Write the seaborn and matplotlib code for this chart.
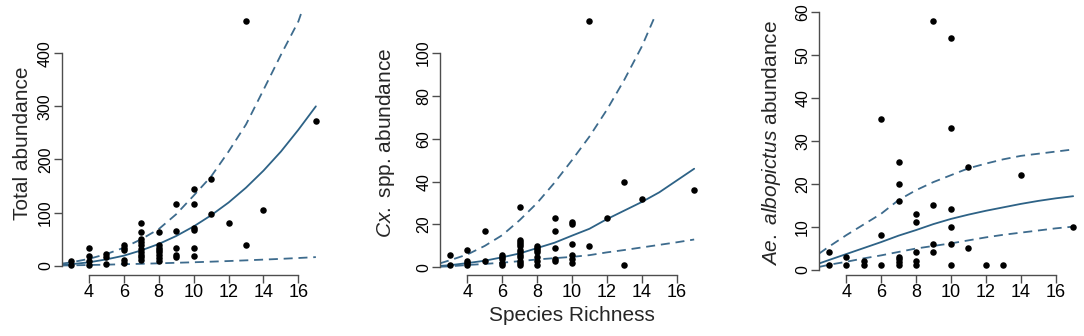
import matplotlib
matplotlib.use("Agg")
import matplotlib.pyplot as plt
import seaborn as sns

# ---------------- data ----------------
# Panel 1: Total abundance
rich1 = [3, 3, 4, 4, 4, 4, 5, 5, 5, 6, 6, 6, 6, 6,
         7, 7, 7, 7, 7, 7, 7, 7, 7, 7,
         8, 8, 8, 8, 8, 8, 8, 8,
         9, 9, 9, 9, 9, 10, 10, 10, 10, 10, 10,
         11, 11, 12, 13, 13, 14, 17]
total1 = [9, 2, 34, 19, 9, 2, 22, 17, 3, 40, 34, 29, 10, 6,
          81, 63, 50, 44, 39, 31, 25, 20, 16, 11,
          63, 39, 34, 30, 25, 20, 14, 9,
          116, 66, 33, 20, 16, 144, 116, 72, 67, 33, 19,
          164, 97, 80, 461, 40, 105, 272]

# Panel 2: Cx. spp. abundance
rich2 = [3, 3, 4, 4, 4, 4, 5, 5, 6, 6, 6, 6, 6,
         7, 7, 7, 7, 7, 7, 7, 7, 7, 7, 7, 7,
         8, 8, 8, 8, 8, 8, 8,
         9, 9, 9, 9, 9, 10, 10, 10, 10, 10, 10,
         11, 11, 12, 13, 13, 14, 17]
culex2 = [6, 1, 8, 3, 2, 1, 17, 3, 6, 5, 4, 2, 1,
          28, 13, 12, 11, 10, 8, 7, 6, 5, 3, 2, 1,
          10, 9, 8, 7, 5, 3, 1,
          23, 17, 9, 4, 3, 21, 20, 11, 6, 4, 2,
          115, 10, 23, 40, 1, 32, 36]

# Panel 3: Ae. albopictus abundance
rich3 = [3, 3, 4, 4, 5, 5, 6, 6, 6,
         7, 7, 7, 7, 7, 7, 7,
         8, 8, 8, 8, 8,
         9, 9, 9, 9, 10, 10, 10, 10, 10, 10,
         11, 11, 12, 13, 14, 17]
aedes3 = [4, 1, 3, 1, 2, 1, 35, 8, 1,
          25, 20, 16, 3, 2.4, 1.7, 1,
          13, 11, 4, 2, 1,
          58, 15, 6, 4, 54, 33, 14, 10, 6, 1,
          24, 5, 1, 1, 22, 10]

# fitted curves
fit_x = [2.44, 3, 4, 5, 6, 7, 8, 9, 10, 11, 12, 13, 14, 15, 16, 17]

fit1 = [1.7, 3, 6.5, 12, 19, 29, 41, 56, 74, 95, 119, 147, 179, 215, 256, 300]
lo1 = [0.5, 0.8, 1.4, 2.1, 2.9, 3.7, 4.6, 5.6, 6.6, 7.7, 8.9, 10.2, 11.6, 13, 14.6, 16.3]
hi1_x = [2.44, 3, 4, 5, 6, 7, 8, 9, 10, 11, 12, 13, 14, 15, 16, 16.18]
hi1 = [4, 6.5, 13, 22, 34, 50, 69, 97, 132, 168, 215, 266, 331, 397, 460, 477]

fit2 = [0.7, 1.0, 2.0, 3.1, 4.7, 6.5, 9, 11.5, 14.8, 18, 22.5, 26.5, 30.5, 35, 40.5, 46]
lo2 = [0.3, 0.5, 1.1, 1.6, 2.2, 2.9, 3.7, 4.3, 4.9, 5.7, 7, 8.1, 9.3, 10.5, 11.7, 13]
hi2_x = [2.44, 3, 4, 5, 6, 7, 8, 9, 10, 11, 12, 13, 14, 14.8]
hi2 = [1.9, 3.3, 6, 10, 15, 22, 30, 39.5, 50, 61, 73.5, 87.5, 103, 118]

fit3 = [1.4, 2.2, 3.6, 5.0, 6.4, 7.9, 9.2, 10.6, 11.8, 12.8, 13.7, 14.5, 15.3, 16, 16.6, 17.1]
lo3 = [0.6, 1.1, 1.8, 2.6, 3.3, 4.1, 4.9, 5.5, 6.1, 6.8, 7.5, 8.1, 8.6, 9.1, 9.6, 10]
hi3 = [3.7, 5.3, 8, 10.5, 13, 16.2, 18.5, 20.4, 22, 23.6, 24.7, 25.7, 26.5, 27, 27.5, 28]

x_ticks = [4, 6, 8, 10, 12, 14, 16]
y_ticks1 = [0, 100, 200, 300, 400]
y_ticks2 = [0, 20, 40, 60, 80, 100]
y_ticks3 = [0, 10, 20, 30, 40, 50, 60]

ylabels = ["Total abundance",
           r"$\mathit{Cx.}$ spp. abundance",
           r"$\mathit{Ae.\ albopictus}$ abundance"]
xlabel = "Species Richness"

# ---------------- style ----------------
sns.set_style("ticks")
plt.rcParams["font.family"] = ["Liberation Sans", "DejaVu Sans"]
plt.rcParams["mathtext.fontset"] = "custom"
plt.rcParams["mathtext.rm"] = "Liberation Sans"
plt.rcParams["mathtext.it"] = "Liberation Sans:italic"

axis_col = "#4d4d4d"
solid_col = "#2d6286"
dash_col = "#3d6b8d"

fig = plt.figure(figsize=(10.84, 3.36), dpi=100)
lefts = [0.0569, 0.4059, 0.7555]
panels = [
    (rich1, total1, fit1, lo1, hi1_x, hi1, y_ticks1, (-17.4, 479.4), -0.111),
    (rich2, culex2, fit2, lo2, hi2_x, hi2, y_ticks2, (-3.56, 119.56), -0.164),
    (rich3, aedes3, fit3, lo3, fit_x, hi3, y_ticks3, (-1.28, 60.28), -0.136),
]

for i, (xs, ys, fit, lo, hx, hi, yt, ylim, lab_x) in enumerate(panels):
    ax = fig.add_axes([lefts[i], 0.1815, 0.2435, 0.7857])
    sns.scatterplot(x=xs, y=ys, ax=ax, color="black", s=22, linewidth=0,
                    zorder=3)
    sns.lineplot(x=fit_x, y=fit, ax=ax, color=solid_col, lw=1.3,
                 estimator=None, sort=False)
    sns.lineplot(x=fit_x, y=lo, ax=ax, color=dash_col, lw=1.3,
                 estimator=None, sort=False, linestyle=(0, (5, 3.2)))
    sns.lineplot(x=hx, y=hi, ax=ax, color=dash_col, lw=1.3,
                 estimator=None, sort=False, linestyle=(0, (5, 3.2)))

    ax.set_xlim(2.44, 17.56)
    ax.set_ylim(*ylim)
    ax.set_xticks(x_ticks)
    ax.set_xticklabels([str(t) for t in x_ticks])
    ax.set_yticks(yt)
    ax.set_yticklabels([str(t) for t in yt])
    for s in ["top", "right"]:
        ax.spines[s].set_visible(False)
    ax.spines["bottom"].set_bounds(4, 16)
    ax.spines["left"].set_bounds(yt[0], yt[-1])
    for s in ["bottom", "left"]:
        ax.spines[s].set_color(axis_col)
        ax.spines[s].set_linewidth(1.0)
    ax.tick_params(axis="both", direction="out", length=5.8, width=1.0,
                   color=axis_col, labelcolor="black")
    ax.tick_params(axis="x", labelsize=13, pad=1)
    ax.tick_params(axis="y", labelsize=11.5, pad=0.5, labelrotation=90)
    for lab in ax.get_yticklabels():
        lab.set_va("center")

    ax.set_ylabel(ylabels[i], fontsize=15)
    ax.yaxis.set_label_coords(lab_x, 0.5)
    if i == 1:
        ax.set_xlabel(xlabel, fontsize=15)
        ax.xaxis.set_label_coords(0.5, -0.117)
    else:
        ax.set_xlabel("")

fig.savefig("out.png", dpi=100)
